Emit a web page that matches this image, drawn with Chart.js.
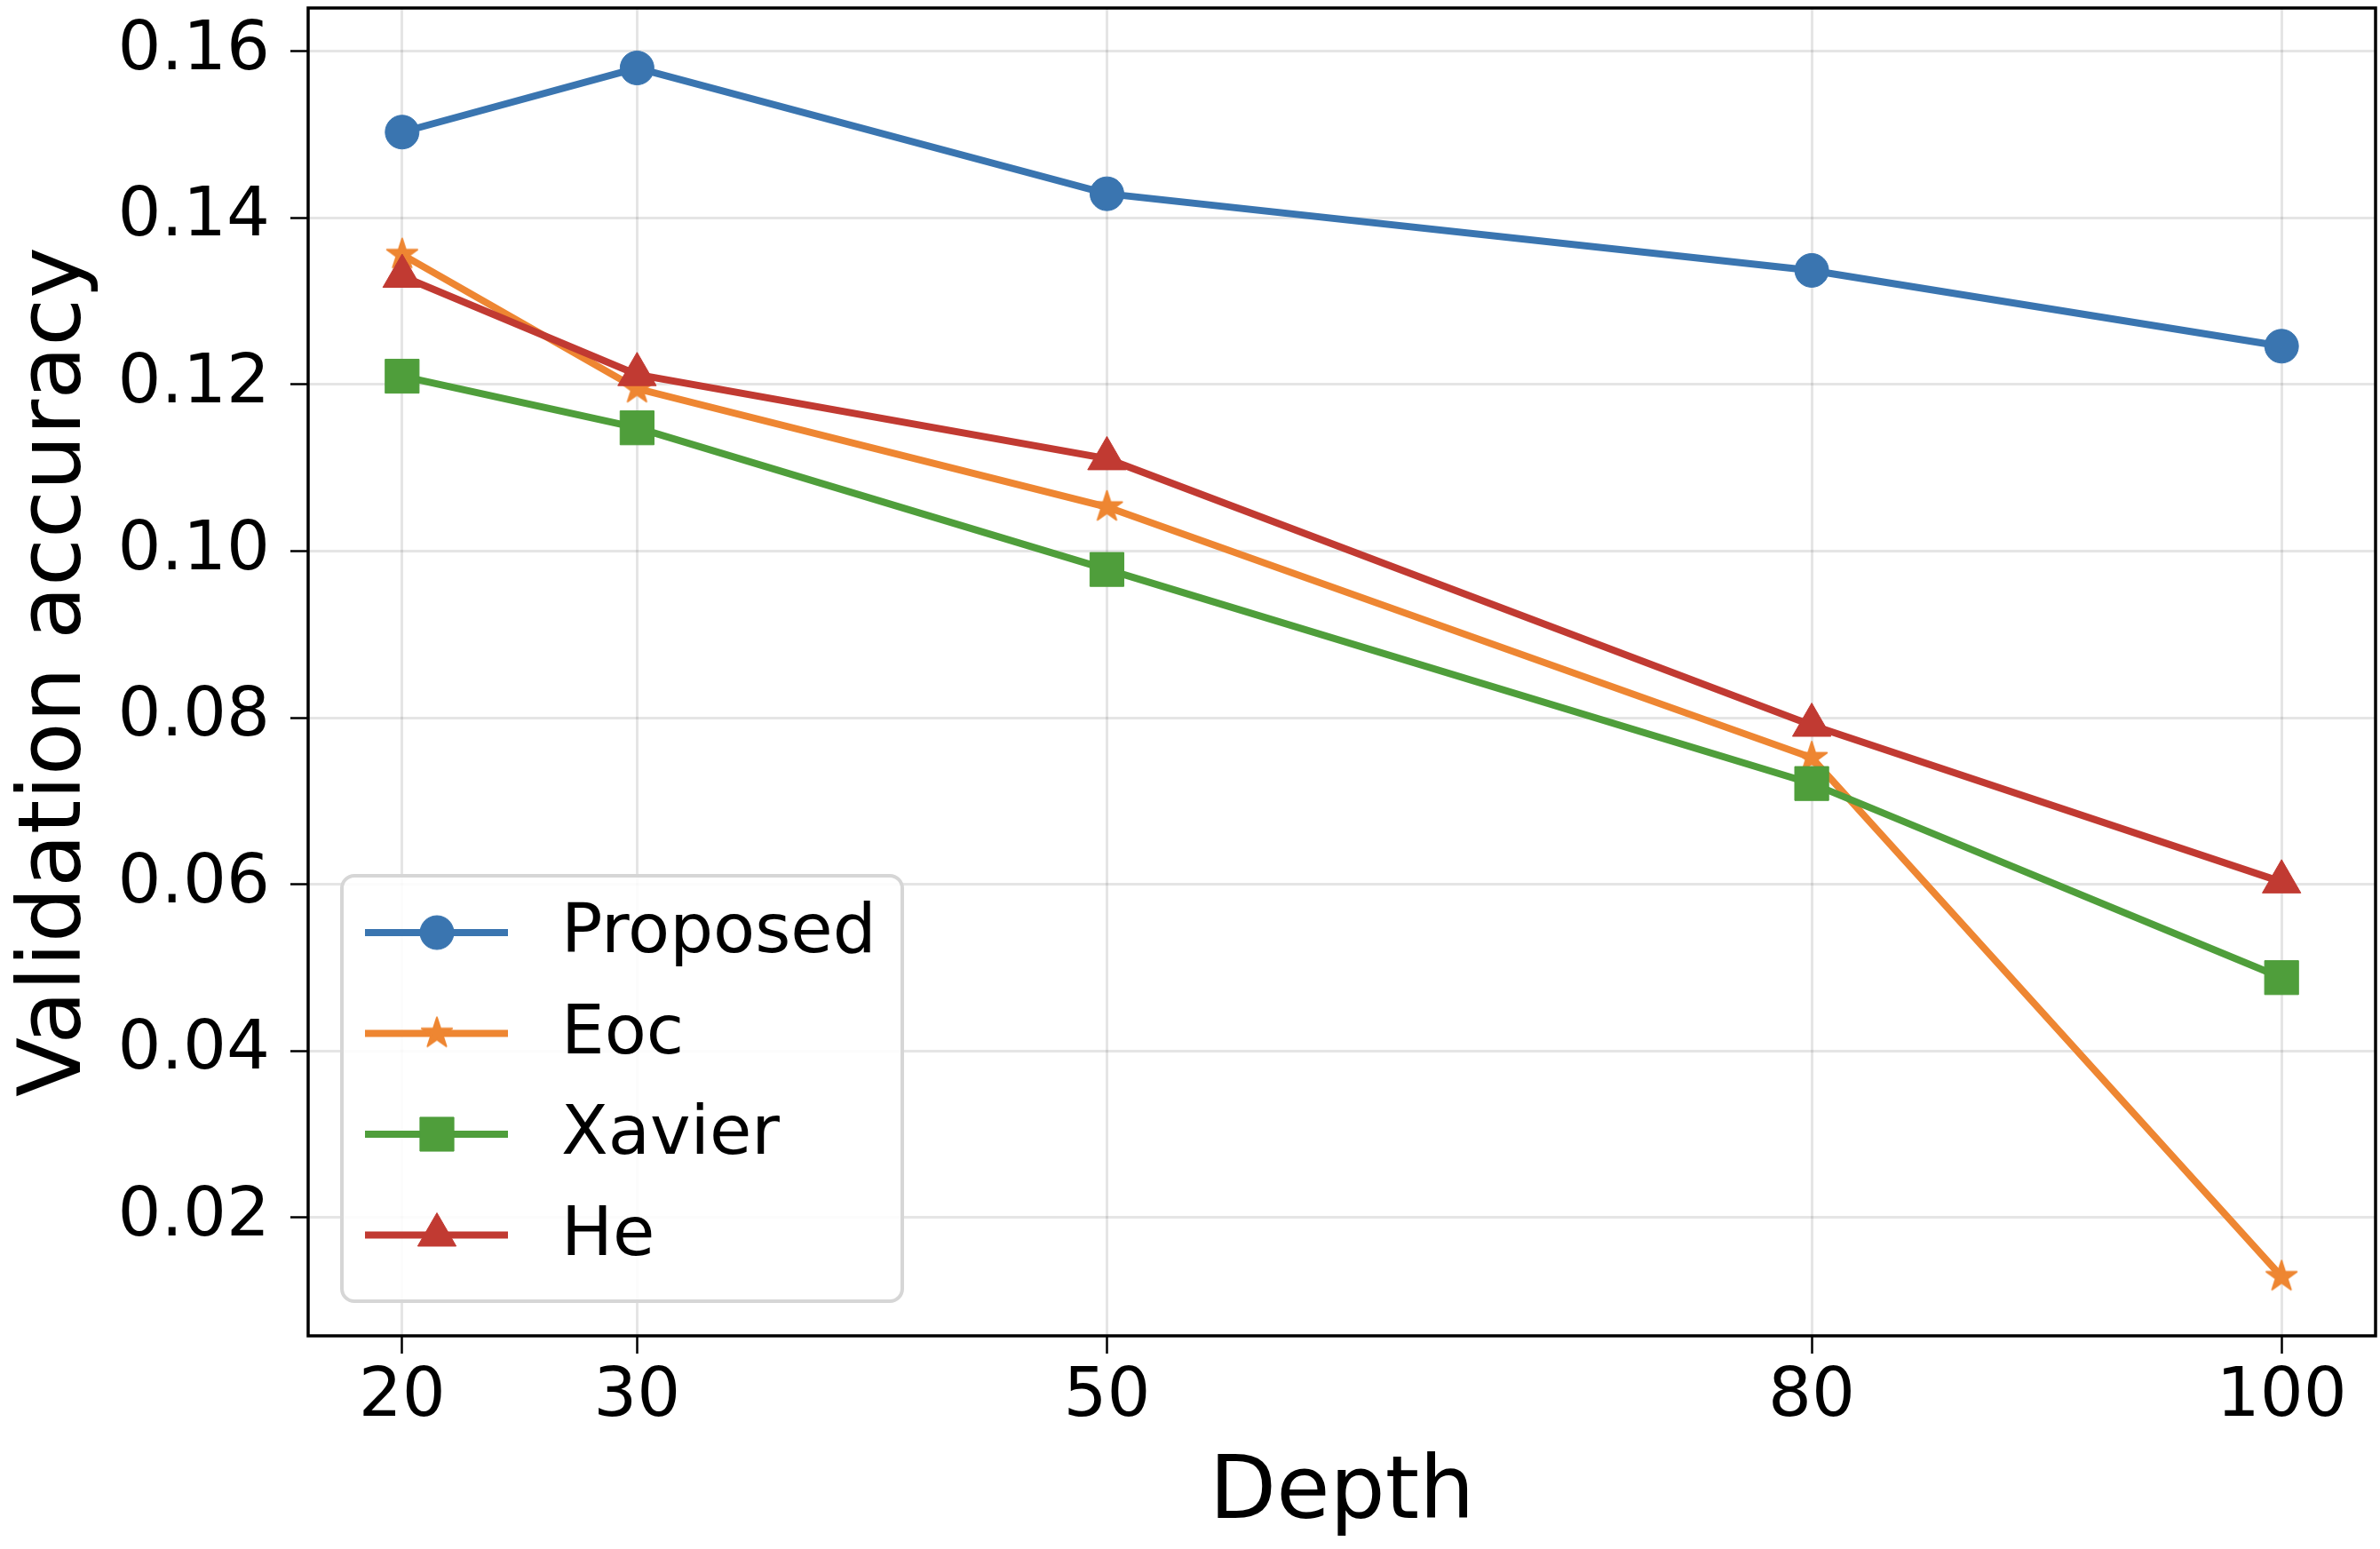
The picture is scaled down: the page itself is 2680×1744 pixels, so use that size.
<!DOCTYPE html>
<html>
<head>
<meta charset="utf-8">
<script src="https://cdn.jsdelivr.net/npm/chart.js@4/dist/chart.umd.min.js"></script>
<style>
  html, body { margin: 0; padding: 0; background: #fff; }
  canvas { display: block; }
</style>
</head>
<body>
<canvas id="chart" width="2680" height="1744"></canvas>
<script>
/* ── Data ────────────────────────────────────────────────── */
const depths      = [20, 30, 50, 80, 100];
const proposed    = [0.1503, 0.1580, 0.1429, 0.1337, 0.1246];
const eoc         = [0.1356, 0.1195, 0.1053, 0.0752, 0.0129];
const xavier      = [0.1210, 0.1148, 0.0978, 0.0721, 0.0488];
const he          = [0.1330, 0.1212, 0.1111, 0.0791, 0.0603];
const seriesNames = ["Proposed", "Eoc", "Xavier", "He"];
const xTicks      = [20, 30, 50, 80, 100];
const yTicks      = [0.02, 0.04, 0.06, 0.08, 0.10, 0.12, 0.14, 0.16];

/* ── Style ───────────────────────────────────────────────── */
const FONT   = "'DejaVu Sans', 'Liberation Sans', sans-serif";
const BLUE   = "#3a75b0";
const ORANGE = "#ee8632";
const GREEN  = "#4f9e3b";
const RED    = "#c13a32";
const LINE_W = 8;

// matplotlib-style filled star (Chart.js "star" is an asterisk)
function starImage(color, R) {
  const size = Math.ceil(2 * R + 6);
  const c = document.createElement("canvas");
  c.width = c.height = size;
  const g = c.getContext("2d");
  const cx = size / 2, cy = size / 2;
  g.beginPath();
  for (let i = 0; i < 10; i++) {
    const r = i % 2 ? R * 0.382 : R;
    const a = -Math.PI / 2 + i * Math.PI / 5;
    g.lineTo(cx + r * Math.cos(a), cy + r * Math.sin(a));
  }
  g.closePath();
  g.fillStyle = color;
  g.fill();
  g.lineJoin = "round";
  g.lineWidth = 2;
  g.strokeStyle = color;
  g.stroke();
  return c;
}
const STAR = starImage(ORANGE, 18);

const toPts = ys => depths.map((d, i) => ({ x: d, y: ys[i] }));

function series(label, ys, color, style, radius, order) {
  return {
    label,
    data: toPts(ys),
    borderColor: color,
    backgroundColor: color,
    borderWidth: LINE_W,
    pointStyle: style,
    pointRadius: radius,
    pointBorderWidth: 1,
    pointBorderColor: color,
    pointBackgroundColor: color,
    tension: 0,
    order,
  };
}

/* ── Frame + matplotlib legend ───────────────────────────── */
const mplDecor = {
  id: "mplDecor",
  afterDraw(chart) {
    const { ctx, chartArea: a } = chart;
    ctx.save();
    // full box spines
    ctx.strokeStyle = "#000";
    ctx.lineWidth = 3.5;
    ctx.strokeRect(a.left, a.top, a.right - a.left, a.bottom - a.top);

    // legend box
    const bx = a.left + 38, bw = 631, bh = 479, by = a.bottom - 39 - bh;
    ctx.beginPath();
    ctx.roundRect(bx, by, bw, bh, 14);
    ctx.fillStyle = "rgba(255,255,255,0.85)";
    ctx.fill();
    ctx.strokeStyle = "#d6d6d6";
    ctx.lineWidth = 4;
    ctx.stroke();

    ctx.font = "77px " + FONT;
    ctx.textBaseline = "middle";
    ctx.textAlign = "left";
    chart.data.datasets.forEach((ds, i) => {
      const y = by + 64 + i * 113.5;
      ctx.strokeStyle = ds.borderColor;
      ctx.lineWidth = LINE_W;
      ctx.beginPath();
      ctx.moveTo(bx + 26, y);
      ctx.lineTo(bx + 187, y);
      ctx.stroke();
      ctx.fillStyle = ds.backgroundColor;
      ctx.strokeStyle = ds.borderColor;
      ctx.lineWidth = 1;
      Chart.helpers.drawPoint(ctx, {
        pointStyle: ds.pointStyle, radius: ds.pointRadius, rotation: 0, borderWidth: 1,
      }, bx + 107, y);
      ctx.fillStyle = "#000";
      ctx.fillText(ds.label, bx + 247, y + 2);
    });
    ctx.restore();
  },
};

/* ── Chart ───────────────────────────────────────────────── */
new Chart(document.getElementById("chart"), {
  type: "line",
  data: {
    datasets: [
      series(seriesNames[0], proposed, BLUE,   "circle",   19, 3),
      series(seriesNames[1], eoc,      ORANGE, STAR,       18, 2),
      series(seriesNames[2], xavier,   GREEN,  "rect",     27, 1),
      series(seriesNames[3], he,       RED,    "triangle", 25, 0),
    ],
  },
  options: {
    responsive: false,
    devicePixelRatio: 1,
    animation: false,
    layout: { autoPadding: false, padding: { top: 9, right: 5, left: 0, bottom: 0 } },
    plugins: { legend: { display: false }, tooltip: { enabled: false } },
    scales: {
      x: {
        type: "linear",
        min: 16,
        max: 104,
        afterBuildTicks: s => { s.ticks = xTicks.map(v => ({ value: v })); },
        afterFit: s => { s.height = 240; s.paddingLeft = 0; s.paddingRight = 0; },
        border: { display: false },
        grid: {
          color: "rgba(0,0,0,0.1)", lineWidth: 3,
          drawTicks: true, tickLength: 20, tickColor: "#000", tickWidth: 2.5,
        },
        ticks: {
          color: "#000", padding: 4, maxRotation: 0, autoSkip: false,
          font: { family: FONT, size: 77 },
          callback: v => String(v),
        },
        title: {
          display: true, text: "Depth", color: "#000",
          font: { family: FONT, size: 98 }, padding: { top: 0, bottom: 2 },
        },
      },
      y: {
        type: "linear",
        min: 0.0058,
        max: 0.1652,
        afterBuildTicks: s => { s.ticks = yTicks.map(v => ({ value: v })); },
        afterFit: s => { s.width = 347; s.paddingTop = 0; s.paddingBottom = 0; },
        border: { display: false },
        grid: {
          color: "rgba(0,0,0,0.1)", lineWidth: 3,
          drawTicks: true, tickLength: 20, tickColor: "#000", tickWidth: 2.5,
        },
        ticks: {
          color: "#000", padding: 23, autoSkip: false,
          font: { family: FONT, size: 77 },
          callback: v => v.toFixed(2),
        },
        title: {
          display: true, text: "Validation accuracy", color: "#000",
          font: { family: FONT, size: 98 }, padding: { top: 6, bottom: 0 },
        },
      },
    },
  },
  plugins: [mplDecor],
});
</script>
</body>
</html>
